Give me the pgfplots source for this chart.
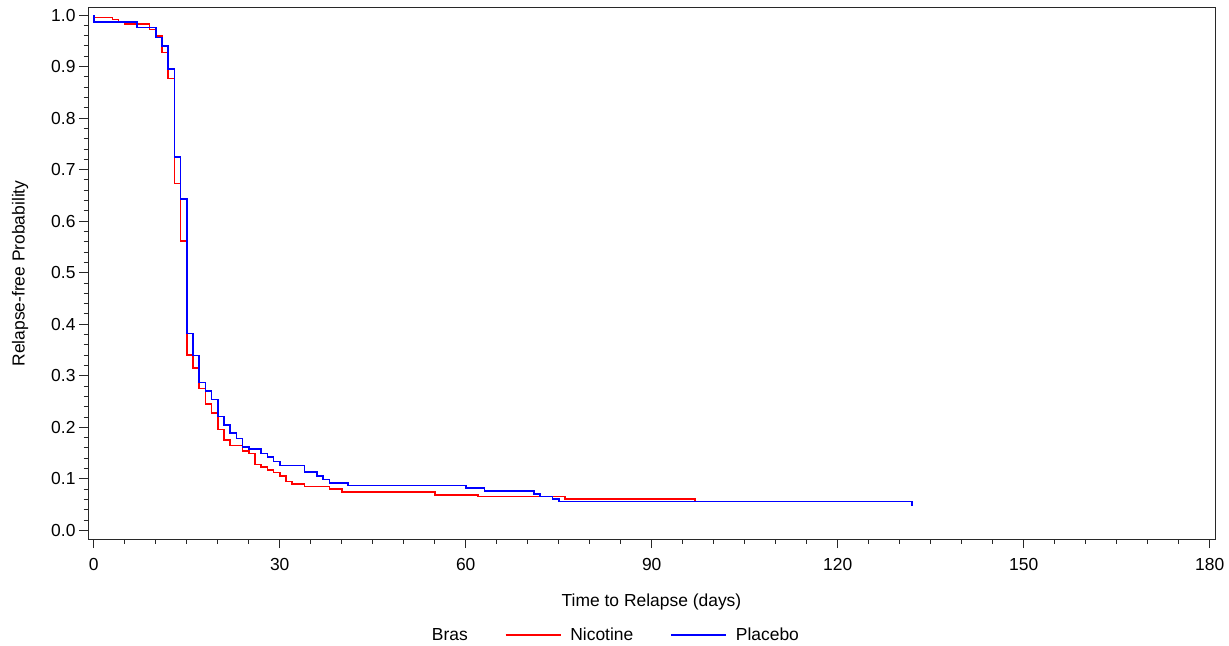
\documentclass[border=0pt]{standalone}
\usepackage{pgfplots}
\pgfplotsset{compat=1.18}
\usepackage{fontspec}
\setmainfont{Liberation Sans}
\definecolor{sasred}{RGB}{255,0,0}
\definecolor{sasblue}{RGB}{0,0,255}
\definecolor{axgray}{RGB}{40,40,40}
\begin{document}
\begin{tikzpicture}[font=\fontsize{17.5}{21}\selectfont]
\begin{axis}[
  scale only axis, width=1127bp, height=531bp,
  xmin=-0.92, xmax=180.85, ymin=-0.0167, ymax=1.0136,
  axis line style={draw=axgray, line width=1bp},
  xtick pos=bottom, ytick pos=left, tick align=outside,
  xtick={0,30,60,90,120,150,180}, minor x tick num=5,
  ytick={0,0.1,0.2,0.3,0.4,0.5,0.6,0.7,0.8,0.9,1.0}, minor y tick num=4,
  major tick length=9bp, minor tick length=4.5bp,
  every tick/.style={draw=axgray, line width=1bp},
  /pgf/number format/assume math mode=true,
  yticklabel style={/pgf/number format/.cd, fixed, fixed zerofill, precision=1},
  xticklabel style={yshift=-7bp},
  xlabel={Time to Relapse (days)},
  ylabel={Relapse-free Probability},
  every axis x label/.style={at={(rel axis cs:0.5,0)}, yshift=-63bp, anchor=center},
  every axis y label/.style={at={(rel axis cs:0,0.5)}, xshift=-68bp, rotate=90, anchor=center},
  legend columns=-1,
  legend style={draw=none, fill=none, at={(rel axis cs:0.468,-0.181)}, anchor=center,
    /tikz/every even column/.append style={column sep=35bp}},
  legend image code/.code={\draw[#1] (0bp,0bp) -- (55bp,0bp); \path (62bp,0bp);},
]
\addlegendimage{empty legend}
\addlegendentry{Bras}
\addplot[const plot, draw=sasred, line width=1.6bp] coordinates {
(0,1.0)(0,0.995)(3,0.991)(4,0.987)(5,0.982)(9,0.972)(10,0.959)(11,0.927)
(12,0.877)(13,0.673)(14,0.562)(15,0.340)(16,0.315)(17,0.275)(18,0.245)
(19,0.228)(20,0.196)(21,0.175)(22,0.165)(24,0.154)(25,0.149)(26,0.128)
(27,0.123)(28,0.117)(29,0.112)(30,0.106)(31,0.095)(32,0.090)(34,0.085)
(38,0.080)(40,0.074)(55,0.069)(62,0.066)(76,0.061)(97,0.061)(97,0.058)
};
\addlegendentry{Nicotine}
\addplot[const plot, draw=sasblue, line width=1.6bp] coordinates {
(0,1.0)(0,0.987)(7,0.976)(10,0.956)(11,0.940)(12,0.895)(13,0.724)(14,0.643)
(15,0.382)(16,0.339)(17,0.287)(18,0.270)(19,0.254)(20,0.221)(21,0.204)
(22,0.189)(23,0.178)(24,0.162)(25,0.158)(27,0.149)(28,0.143)(29,0.134)
(30,0.126)(34,0.113)(36,0.106)(37,0.099)(38,0.092)(41,0.087)(60,0.082)
(63,0.077)(71,0.071)(72,0.066)(74,0.061)(75,0.056)(132,0.056)(132,0.047)
};
\addlegendentry{Placebo}
\end{axis}
\pgfresetboundingbox
\path ([xshift=-88bp,yshift=-106bp]current axis.south west) rectangle ([xshift=14bp,yshift=8bp]current axis.north east);
\end{tikzpicture}
\end{document}
